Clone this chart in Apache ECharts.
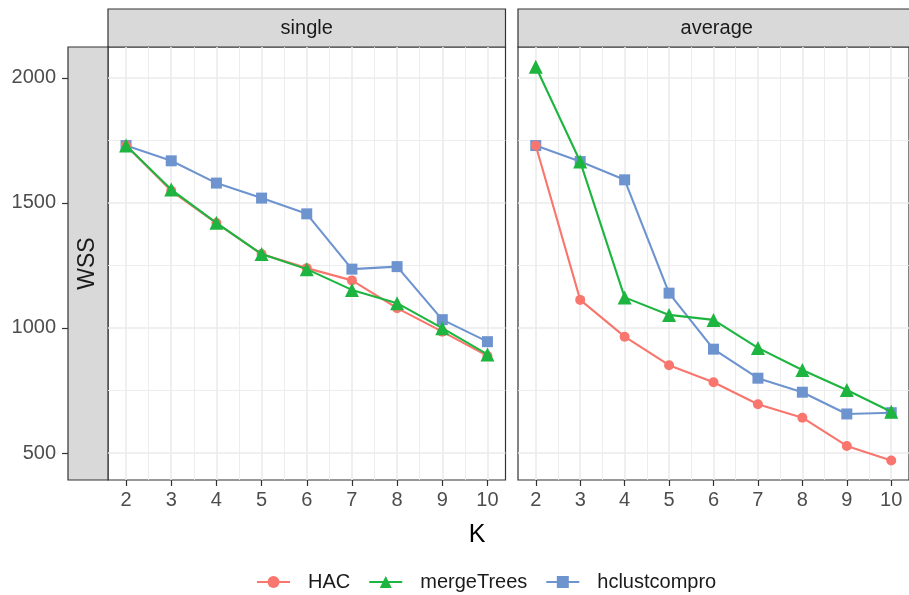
<!DOCTYPE html>
<html>
<head>
<meta charset="utf-8">
<script src="https://cdn.jsdelivr.net/npm/echarts@6/dist/echarts.min.js"></script>
<style>html,body{margin:0;padding:0;background:#fff;}#c{width:909px;height:595px;}</style>
</head>
<body>
<div id="c"></div>
<script>
const K = [2, 3, 4, 5, 6, 7, 8, 9, 10];
const kTicks = [2, 3, 4, 5, 6, 7, 8, 9, 10];
const kMinor = [2.5, 3.5, 4.5, 5.5, 6.5, 7.5, 8.5, 9.5];
const yTicks = [500, 1000, 1500, 2000];
const yMinor = [750, 1250, 1750];
const facets = ['single', 'average'];
const seriesNames = ['HAC', 'mergeTrees', 'hclustcompro'];

const singleHAC = [1729, 1548, 1419, 1295, 1239, 1190, 1079, 985, 888];
const singleMerge = [1729, 1553, 1420, 1295, 1235, 1152, 1099, 999, 894];
const singleHclust = [1729, 1668, 1579, 1519, 1456, 1235, 1245, 1033, 945];

const avgHAC = [1729, 1112, 965, 851, 783, 695, 641, 528, 470];
const avgMerge = [2044, 1665, 1122, 1052, 1032, 920, 832, 752, 665];
const avgHclust = [1729, 1665, 1592, 1139, 915, 799, 743, 656, 661];

const colors = {HAC: '#F8766D', mergeTrees: '#1DB53F', hclustcompro: '#6E94CF'};
const symbols = {HAC: 'circle', mergeTrees: 'triangle', hclustcompro: 'rect'};
const symSizes = {HAC: 10, mergeTrees: 14, hclustcompro: 11};
const zs = {HAC: 3, mergeTrees: 4, hclustcompro: 2};

const FONT = '"Liberation Sans", Arial, Helvetica, sans-serif';
const grids = [
  {left: 108, top: 47, width: 397.5, height: 433},
  {left: 518, top: 47, width: 397.5, height: 433}
];
const Y_MIN = 392, Y_MAX = 2123, X_MIN = 1.6, X_MAX = 10.4;

function pairs(vals) { return K.map((k, i) => [k, vals[i]]); }

const chart = echarts.init(document.getElementById('c'), null, {renderer: 'canvas'});

const xAxes = [], yAxes = [];
grids.forEach((g, gi) => {
  xAxes.push({
    type: 'value', gridIndex: gi, min: X_MIN, max: X_MAX, position: 'bottom',
    axisLine: {show: false},
    axisTick: {show: true, length: 6, customValues: kTicks, lineStyle: {color: '#333333', width: 1.2}},
    axisLabel: {show: true, customValues: kTicks, fontSize: 20, color: '#4D4D4D', margin: 10, fontFamily: FONT,
      formatter: v => String(v)},
    splitLine: {show: true, lineStyle: {color: '#EBEBEB', width: 1.6}}
  });
  xAxes.push({
    type: 'value', gridIndex: gi, min: X_MIN, max: X_MAX, position: 'top',
    axisLine: {show: false},
    axisTick: {show: false, customValues: kMinor},
    axisLabel: {show: false, customValues: kMinor},
    splitLine: {show: true, lineStyle: {color: '#EBEBEB', width: 0.9}}
  });
  yAxes.push({
    type: 'value', gridIndex: gi, min: Y_MIN, max: Y_MAX, position: 'left',
    offset: gi === 0 ? 40 : 0,
    axisLine: {show: false},
    axisTick: {show: gi === 0, length: 6, customValues: yTicks, lineStyle: {color: '#333333', width: 1.2}},
    axisLabel: {show: gi === 0, customValues: yTicks, fontSize: 20, color: '#4D4D4D', margin: 12, fontFamily: FONT,
      formatter: v => String(v)},
    splitLine: {show: true, lineStyle: {color: '#EBEBEB', width: 1.6}}
  });
  yAxes.push({
    type: 'value', gridIndex: gi, min: Y_MIN, max: Y_MAX, position: 'right',
    axisLine: {show: false},
    axisTick: {show: false, customValues: yMinor},
    axisLabel: {show: false, customValues: yMinor},
    splitLine: {show: true, lineStyle: {color: '#EBEBEB', width: 0.9}}
  });
});

const panelData = [
  {HAC: singleHAC, mergeTrees: singleMerge, hclustcompro: singleHclust},
  {HAC: avgHAC, mergeTrees: avgMerge, hclustcompro: avgHclust}
];

const series = [];
panelData.forEach((pd, gi) => {
  seriesNames.forEach(name => {
    series.push({
      name: name, type: 'line',
      xAxisIndex: gi * 2, yAxisIndex: gi * 2,
      data: pairs(pd[name]),
      symbol: symbols[name], symbolSize: symSizes[name],
      showSymbol: true,
      z: zs[name],
      lineStyle: {color: colors[name], width: 2.1},
      itemStyle: {color: colors[name], borderWidth: 0},
      emphasis: {disabled: true},
      silent: true
    });
  });
});

const graphics = [];
grids.forEach((g, gi) => {
  graphics.push({
    type: 'rect', shape: {x: g.left, y: 9, width: g.width, height: g.top - 9},
    style: {fill: '#D9D9D9', stroke: '#333333', lineWidth: 1.2}, silent: true
  });
  graphics.push({
    type: 'text', x: g.left + 397.5 / 2, y: 28,
    style: {text: facets[gi], fontSize: 20, fill: '#1A1A1A', fontFamily: FONT, align: 'center', verticalAlign: 'middle'},
    silent: true
  });
});
graphics.push({
  type: 'rect', shape: {x: 68, y: 47, width: 40, height: 433},
  style: {fill: '#D9D9D9', stroke: '#333333', lineWidth: 1.2}, silent: true
});
graphics.push({
  type: 'text', x: 88, y: 263.5, rotation: Math.PI / 2,
  style: {text: 'WSS', fontSize: 23, fill: '#1A1A1A', fontFamily: FONT, align: 'center', verticalAlign: 'middle'},
  silent: true
});
graphics.push({
  type: 'text', x: 477, y: 535,
  style: {text: 'K', fontSize: 25, fill: '#000000', fontFamily: FONT, align: 'center', verticalAlign: 'middle'},
  silent: true
});

chart.setOption({
  animation: false,
  backgroundColor: '#ffffff',
  grid: grids.map(g => Object.assign({show: true, backgroundColor: '#ffffff', borderColor: '#333333', borderWidth: 1.2}, g)),
  xAxis: xAxes,
  yAxis: yAxes,
  legend: {
    data: seriesNames, left: 256, top: 572, orient: 'horizontal', padding: 0,
    itemWidth: 33, itemHeight: 15, itemGap: 18,
    textStyle: {fontSize: 20, color: '#1A1A1A', fontFamily: FONT, padding: [0, 0, 0, 13]},
    selectedMode: false
  },
  graphic: graphics,
  series: series
});
</script>
</body>
</html>
